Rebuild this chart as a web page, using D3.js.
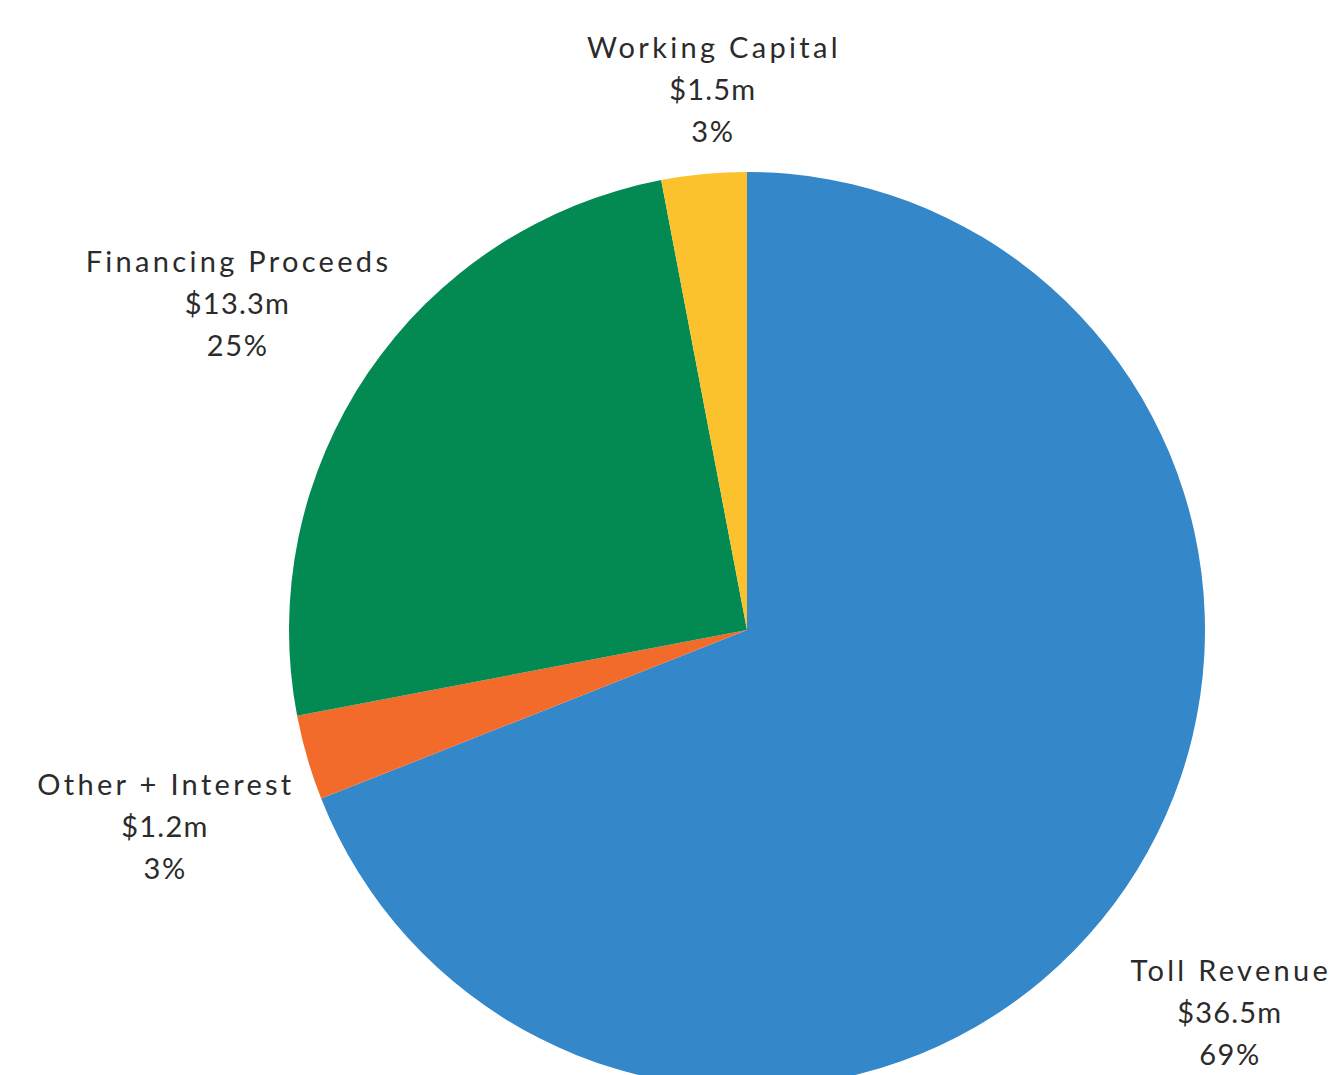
<!DOCTYPE html>
<html>
<head>
<meta charset="utf-8">
<script src="https://cdn.jsdelivr.net/npm/d3@7"></script>
<style>
  body { margin: 0; background: #fff; }
  .lbl { font-family: "Lato", "Open Sans", sans-serif; fill: #2b2b2b; text-anchor: middle; }
</style>
</head>
<body>
<div id="chart"></div>
<script>
// slice data, clockwise from 12 o'clock
var categories = ["Toll Revenue", "Other + Interest", "Financing Proceeds", "Working Capital"];
var amounts = ["$36.5m", "$1.2m", "$13.3m", "$1.5m"];
var shares = [69, 3, 25, 3];
var colors = ["#3487c8", "#f26b2a", "#038a53", "#fbc22e"];

var width = 1342;
var height = 1075;

// pie geometry
var cx = 747;
var cy = 630;
var radius = 458;

// label placement: radius along the slice middle, then a small nudge
var labelR = [612, 612, 612, 540];
var nudge = [[-24, 39], [5, 26], [-4, 18], [16, -2]];
var lineGap = 42;
// name line is spaced wide, number lines tighter
var spacing = [3.3, 1.2, 1.6];

var svg = d3.select("#chart")
  .append("svg")
  .attr("width", width)
  .attr("height", height);

var data = categories.map(function(c, i) {
  return { name: c, amount: amounts[i], share: shares[i], color: colors[i], i: i };
});

var pie = d3.pie()
  .sort(null)
  .value(function(d) { return d.share; });

var arc = d3.arc()
  .innerRadius(0)
  .outerRadius(radius);

var g = svg.append("g")
  .attr("transform", "translate(" + cx + "," + cy + ")");

var arcs = pie(data);

g.selectAll("path")
  .data(arcs)
  .enter()
  .append("path")
  .attr("d", arc)
  .attr("fill", function(d) { return d.data.color; });

// labels
var labels = g.selectAll("g.label")
  .data(arcs)
  .enter()
  .append("g")
  .attr("class", "label")
  .attr("transform", function(d) {
    var i = d.data.i;
    var a = (d.startAngle + d.endAngle) / 2;
    var x = Math.sin(a) * labelR[i] + nudge[i][0];
    var y = -Math.cos(a) * labelR[i] + nudge[i][1];
    return "translate(" + x + "," + y + ")";
  });

labels.each(function(d) {
  var lines = [d.data.name, d.data.amount, d.data.share + "%"];
  d3.select(this).selectAll("text")
    .data(lines)
    .enter()
    .append("text")
    .attr("class", "lbl")
    .attr("x", function(t, k) { return spacing[k] / 2; })
    .attr("y", function(t, k) { return (k - 1) * lineGap + 10; })
    .attr("font-size", 29)
    .attr("letter-spacing", function(t, k) { return spacing[k]; })
    .text(function(t) { return t; });
});
</script>
</body>
</html>
